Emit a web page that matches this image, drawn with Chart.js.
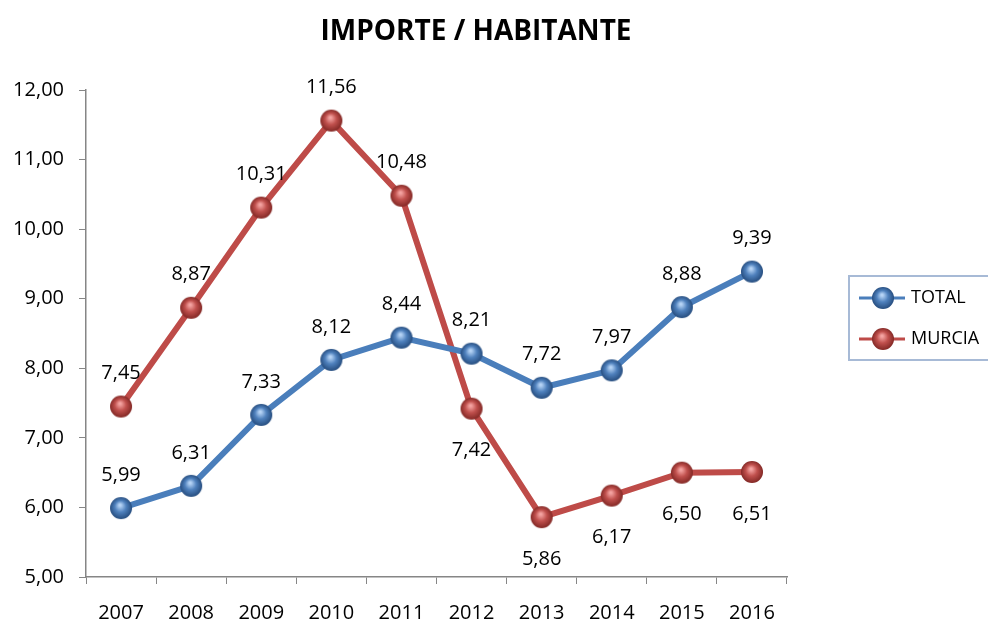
<!DOCTYPE html>
<html>
<head>
<meta charset="utf-8">
<script src="https://cdn.jsdelivr.net/npm/chart.js@4/dist/chart.umd.min.js"></script>
<style>
  html, body { margin: 0; padding: 0; background: #fff; }
  canvas { display: block; }
</style>
</head>
<body>
<canvas id="myChart" width="988" height="626"></canvas>
<script>
// Data
const years = ['2007', '2008', '2009', '2010', '2011', '2012', '2013', '2014', '2015', '2016'];
const total = [5.99, 6.31, 7.33, 8.12, 8.44, 8.21, 7.72, 7.97, 8.88, 9.39];
const murcia = [7.45, 8.87, 10.31, 11.56, 10.48, 7.42, 5.86, 6.17, 6.50, 6.51];
const yMin = 5, yMax = 12, yStep = 1;

const FONT = '"Open Sans", "Liberation Sans", sans-serif';
const fmt = v => v.toFixed(2).replace('.', ',');

// little shaded ball used as the marker
function sphere(light, mid, dark) {
  const c = document.createElement('canvas');
  c.width = 24; c.height = 24;
  const g = c.getContext('2d');
  const grad = g.createRadialGradient(11, 9, 1, 12, 12, 11.5);
  grad.addColorStop(0, light);
  grad.addColorStop(0.45, mid);
  grad.addColorStop(1, dark);
  g.fillStyle = grad;
  g.beginPath();
  g.arc(12, 12, 11, 0, Math.PI * 2);
  g.fill();
  return c;
}
const blueBall = sphere('#b5d3f5', '#4f81bd', '#23497a');
const redBall = sphere('#f4a3a1', '#c0504d', '#7e2522');

// value labels, placed above or below the marker
const valueLabels = {
  id: 'valueLabels',
  afterDatasetsDraw(chart) {
    const ctx = chart.ctx;
    ctx.save();
    ctx.font = '20px ' + FONT;
    ctx.fillStyle = '#000';
    ctx.textAlign = 'center';
    ctx.textBaseline = 'middle';
    chart.data.datasets.forEach((ds, i) => {
      const meta = chart.getDatasetMeta(i);
      meta.data.forEach((pt, j) => {
        const below = ds.labelBelow && ds.labelBelow(j);
        const y = below ? pt.y + 42 : pt.y - 33;
        ctx.fillText(fmt(ds.data[j]), pt.x, y);
      });
    });
    ctx.restore();
  }
};

// title and boxed legend
const decorations = {
  id: 'decorations',
  afterDraw(chart) {
    const ctx = chart.ctx;
    ctx.save();
    ctx.fillStyle = '#000';
    ctx.font = 'bold 28px ' + FONT;
    ctx.textAlign = 'center';
    ctx.textBaseline = 'middle';
    ctx.fillText('IMPORTE / HABITANTE', 476, 32);

    ctx.strokeStyle = '#a7bad6';
    ctx.lineWidth = 2;
    ctx.strokeRect(849, 276, 142, 84);
    ctx.font = '18px ' + FONT;
    ctx.textAlign = 'left';
    chart.data.datasets.forEach((ds, i) => {
      const y = 298 + i * 41;
      ctx.strokeStyle = ds.borderColor;
      ctx.lineWidth = 3;
      ctx.beginPath();
      ctx.moveTo(859, y);
      ctx.lineTo(905, y);
      ctx.stroke();
      ctx.drawImage(ds.pointStyle, 883 - 12, y - 12);
      ctx.fillStyle = '#000';
      ctx.fillText(ds.label, 911, y);
    });
    ctx.restore();
  }
};

new Chart(document.getElementById('myChart'), {
  type: 'line',
  data: {
    labels: years,
    datasets: [
      {
        label: 'TOTAL', data: total,
        borderColor: '#4a7ebb', borderWidth: 6,
        pointStyle: blueBall, pointRadius: 11, pointHoverRadius: 11
      },
      {
        label: 'MURCIA', data: murcia,
        borderColor: '#be4b48', borderWidth: 6,
        pointStyle: redBall, pointRadius: 11, pointHoverRadius: 11,
        labelBelow: j => j >= 5
      }
    ]
  },
  options: {
    responsive: false,
    animation: false,
    events: [],
    layout: { padding: { top: 90, right: 201, left: 0, bottom: 0 } },
    plugins: { legend: { display: false }, title: { display: false }, tooltip: { enabled: false } },
    scales: {
      x: {
        offset: true,
        grid: { drawOnChartArea: false, offset: true, tickLength: 7, color: '#868686' },
        border: { color: '#868686', width: 1.5 },
        ticks: { color: '#000', font: { family: FONT, size: 20 }, padding: 17, maxRotation: 0 },
        afterFit: s => { s.height = 49; }
      },
      y: {
        min: yMin, max: yMax,
        grid: { drawOnChartArea: false, tickLength: 7, color: '#868686' },
        border: { color: '#868686', width: 1.5 },
        ticks: { stepSize: yStep, color: '#000', font: { family: FONT, size: 20 }, padding: 15, callback: v => fmt(v) },
        afterFit: s => { s.width = 86; }
      }
    }
  },
  plugins: [valueLabels, decorations]
});
</script>
</body>
</html>
